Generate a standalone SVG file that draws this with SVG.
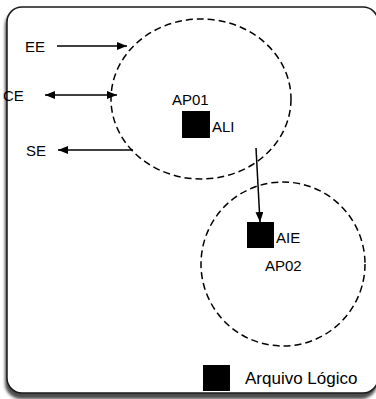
<svg xmlns="http://www.w3.org/2000/svg" width="376" height="399" viewBox="0 0 376 399">
  <defs>
    <marker id="arrow" viewBox="0 0 10 8" refX="10" refY="4" markerWidth="10" markerHeight="8" markerUnits="userSpaceOnUse" orient="auto-start-reverse">
      <path d="M0,0 L10,4 L0,8 Z" fill="#000"/>
    </marker>
    <filter id="shadow" x="-5%" y="-5%" width="110%" height="110%">
      <feGaussianBlur stdDeviation="1.5"/>
    </filter>
  </defs>
  <style>
    .frame { fill: #fff; stroke: #1a1a1a; stroke-width: 1.5; }
    .scope { fill: none; stroke: #000; stroke-width: 1.5; stroke-dasharray: 7 4; }
    .link { stroke: #000; stroke-width: 1.5; fill: none; }
    .file { fill: #000; }
    text { font-family: "Liberation Sans", Arial, sans-serif; font-size: 15px; fill: #000; }
    .legend-label { font-size: 17px; }
  </style>

  <rect width="376" height="399" fill="#fff"/>

  <!-- frame with drop shadow -->
  <rect x="5" y="10" width="372" height="389" rx="16" fill="#4d4d4d" filter="url(#shadow)"/>
  <rect x="7" y="7" width="371" height="386" rx="15" class="frame"/>

  <!-- application boundaries -->
  <g id="ap01">
    <ellipse cx="201" cy="99" rx="90" ry="80" class="scope"/>
    <text x="172" y="105" font-size="14.5">AP01</text>
  </g>
  <g id="ali">
    <rect x="182" y="111" width="28" height="27" class="file"/>
    <text x="212" y="132">ALI</text>
  </g>
  <g id="ap02">
    <circle cx="283" cy="264" r="82" class="scope"/>
    <text x="265" y="271">AP02</text>
  </g>
  <g id="aie">
    <rect x="247" y="222" width="27" height="26" class="file"/>
    <text x="276" y="243" font-size="14.5">AIE</text>
  </g>

  <!-- external actors -->
  <g id="ee"><text x="25" y="52">EE</text></g>
  <g id="ce"><text x="3" y="101">CE</text></g>
  <g id="se"><text x="26" y="156">SE</text></g>

  <!-- legend -->
  <g id="legend">
    <rect x="203" y="365" width="27" height="26" class="file"/>
    <text x="245" y="384" class="legend-label">Arquivo Lógico</text>
  </g>

  <g id="connectors">
    <line x1="57" y1="46" x2="127" y2="46" class="link" marker-end="url(#arrow)"/>
    <line x1="45" y1="95" x2="117" y2="95" class="link" marker-start="url(#arrow)" marker-end="url(#arrow)"/>
    <line x1="133" y1="150" x2="58" y2="150" class="link" marker-end="url(#arrow)"/>
    <line x1="256" y1="148" x2="260" y2="222" class="link" marker-end="url(#arrow)"/>
  </g>
</svg>
